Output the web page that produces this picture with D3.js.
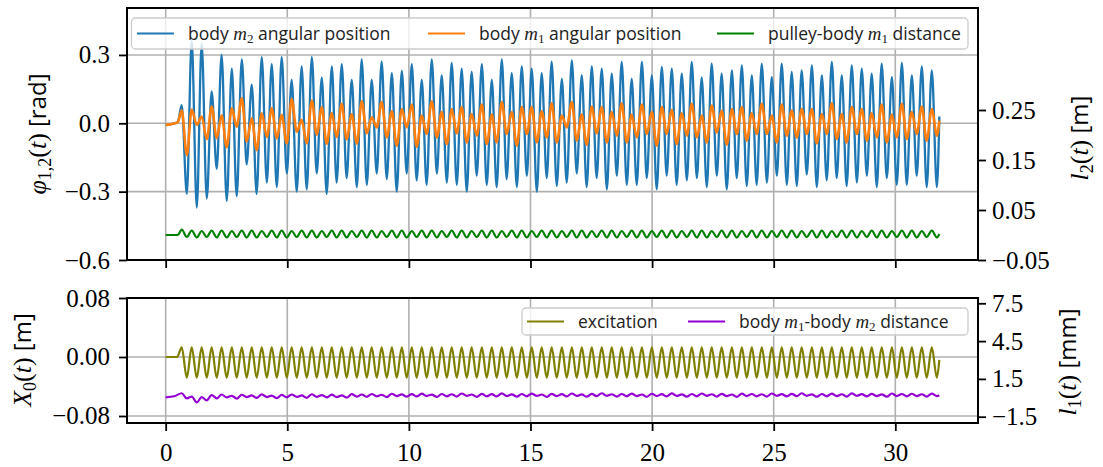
<!DOCTYPE html>
<html>
<head>
<meta charset="utf-8">
<script src="https://cdnjs.cloudflare.com/ajax/libs/d3/7.8.5/d3.min.js"></script>
<style>
	body { margin: 0; background: #fff; }
	svg { display: block; }
	text { white-space: pre; }
</style>
</head>
<body>
<div id="chart"></div>
<script>

// ---- data ----
// times (s) of the oscillation extrema, shared by all signals
const peakTimes = [
	0.66, 1.07, 1.48, 1.89, 2.30, 2.72, 3.13, 3.54, 3.95, 4.36, 4.77, 5.18, 5.59, 6.01, 6.42, 6.83, 7.24, 7.65,
	8.06, 8.47, 8.88, 9.30, 9.71, 10.12, 10.53, 10.94, 11.35, 11.76, 12.17, 12.58, 13.00, 13.41, 13.82, 14.23, 14.64, 15.05, 15.46, 15.87,
	16.29, 16.70, 17.11, 17.52, 17.93, 18.34, 18.75, 19.16, 19.58, 19.99, 20.40, 20.81, 21.22, 21.63, 22.04, 22.45, 22.86, 23.28, 23.69, 24.10,
	24.51, 24.92, 25.33, 25.74, 26.15, 26.57, 26.98, 27.39, 27.80, 28.21, 28.62, 29.03, 29.44, 29.86, 30.27, 30.68, 31.09, 31.50
];
const troughTimes = [
	0.87, 1.28, 1.69, 2.10, 2.51, 2.92, 3.33, 3.74, 4.16, 4.57, 4.98, 5.39, 5.80, 6.21, 6.62, 7.03, 7.44, 7.86,
	8.27, 8.68, 9.09, 9.50, 9.91, 10.32, 10.73, 11.15, 11.56, 11.97, 12.38, 12.79, 13.20, 13.61, 14.02, 14.44, 14.85, 15.26, 15.67, 16.08,
	16.49, 16.90, 17.31, 17.72, 18.14, 18.55, 18.96, 19.37, 19.78, 20.19, 20.60, 21.01, 21.43, 21.84, 22.25, 22.66, 23.07, 23.48, 23.89, 24.30,
	24.72, 25.13, 25.54, 25.95, 26.36, 26.77, 27.18, 27.59, 28.00, 28.42, 28.83, 29.24, 29.65, 30.06, 30.47, 30.88, 31.29, 31.71
];

// body m2 angular position [rad]
const phi2Start = [[0, -0.007], [0.3, -0.002], [0.5, 0.006]];
const phi2Peaks = [
	0.08, 0.36, 0.35, 0.14, 0.30, 0.24, 0.28, 0.17, 0.29, 0.26, 0.29, 0.19, 0.25, 0.29, 0.20, 0.25, 0.26, 0.19,
	0.28, 0.19, 0.27, 0.22, 0.23, 0.26, 0.19, 0.28, 0.21, 0.265, 0.24, 0.225, 0.26, 0.19, 0.28, 0.22, 0.25, 0.24, 0.22, 0.27,
	0.195, 0.276, 0.21, 0.25, 0.24, 0.218, 0.269, 0.195, 0.269, 0.21, 0.247, 0.24, 0.218, 0.269, 0.20, 0.262, 0.218, 0.232, 0.254, 0.21,
	0.262, 0.203, 0.262, 0.225, 0.232, 0.254, 0.21, 0.269, 0.21, 0.254, 0.24, 0.218, 0.262, 0.203, 0.265, 0.21, 0.25, 0.232
];
const phi2Troughs = [
	-0.31, -0.37, -0.33, -0.20, -0.34, -0.32, -0.18, -0.31, -0.26, -0.28, -0.22, -0.30, -0.29, -0.22, -0.31, -0.26, -0.24, -0.28,
	-0.27, -0.22, -0.245, -0.30, -0.22, -0.25, -0.27, -0.22, -0.26, -0.27, -0.30, -0.23, -0.27, -0.28, -0.245, -0.28, -0.23, -0.30, -0.24, -0.275,
	-0.26, -0.22, -0.28, -0.24, -0.29, -0.23, -0.27, -0.27, -0.24, -0.29, -0.23, -0.27, -0.25, -0.24, -0.28, -0.23, -0.29, -0.24, -0.275, -0.27,
	-0.26, -0.23, -0.27, -0.275, -0.225, -0.28, -0.25, -0.24, -0.275, -0.26, -0.23, -0.28, -0.24, -0.27, -0.27, -0.23, -0.28, -0.28
];
const phi2End = [31.81, 0.03];

// body m1 angular position [rad]
const phi1Start = [[0, -0.007], [0.3, -0.002], [0.5, 0.006]];
const phi1Peaks = [
	0.057, 0.06, 0.03, 0.073, 0.035, 0.066, 0.11, 0.022, 0.044, 0.066, 0.037, 0.106, 0.015, 0.10, 0.07, 0.045, 0.085, 0.04,
	0.097, 0.026, 0.093, 0.053, 0.063, 0.082, 0.034, 0.097, 0.049, 0.063, 0.071, 0.041, 0.082, 0.038, 0.093, 0.049, 0.071, 0.071, 0.053, 0.088,
	0.034, 0.093, 0.038, 0.074, 0.071, 0.049, 0.088, 0.038, 0.082, 0.049, 0.071, 0.059, 0.044, 0.085, 0.034, 0.078, 0.056, 0.063, 0.071, 0.044,
	0.085, 0.034, 0.082, 0.056, 0.063, 0.063, 0.041, 0.088, 0.041, 0.071, 0.063, 0.044, 0.082, 0.038, 0.085, 0.049, 0.074, 0.063
];
const phi1Troughs = [
	-0.14, -0.007, -0.07, -0.065, -0.105, -0.015, -0.08, -0.118, -0.06, -0.066, -0.088, -0.037, -0.088, -0.05, -0.09, -0.06, -0.07, -0.09,
	-0.044, -0.018, -0.062, -0.098, -0.018, -0.103, -0.047, -0.062, -0.091, -0.044, -0.084, -0.054, -0.091, -0.084, -0.047, -0.098, -0.047, -0.084, -0.062, -0.084,
	-0.018, -0.076, -0.094, -0.044, -0.084, -0.054, -0.084, -0.062, -0.047, -0.098, -0.047, -0.091, -0.054, -0.062, -0.084, -0.04, -0.094, -0.047, -0.076, -0.047,
	-0.047, -0.084, -0.054, -0.062, -0.047, -0.088, -0.047, -0.069, -0.084, -0.047, -0.076, -0.062, -0.084, -0.062, -0.069, -0.047, -0.076, -0.054
];
const phi1End = [31.81, 0.012];

// pulley-body m1 distance l2 [m]
const l2Start = [[0, 0.0], [0.5, 0.0]];
const l2Peaks = [
	0.011, 0.009, 0.008, 0.009, 0.009, 0.008, 0.009, 0.009, 0.008, 0.009, 0.009, 0.008, 0.009, 0.009, 0.008, 0.009, 0.009, 0.008,
	0.009, 0.009, 0.008, 0.009, 0.009, 0.008, 0.009, 0.009, 0.008, 0.009, 0.009, 0.008, 0.009, 0.009, 0.008, 0.009, 0.009, 0.008, 0.009, 0.009,
	0.008, 0.009, 0.009, 0.008, 0.009, 0.009, 0.008, 0.009, 0.009, 0.008, 0.009, 0.009, 0.008, 0.009, 0.009, 0.008, 0.009, 0.009, 0.008, 0.009,
	0.009, 0.008, 0.009, 0.009, 0.008, 0.009, 0.009, 0.008, 0.009, 0.009, 0.008, 0.009, 0.009, 0.008, 0.009, 0.009, 0.008, 0.009
];
const l2Troughs = [
	-0.004, -0.005, -0.004, -0.005, -0.005, -0.004, -0.005, -0.005, -0.004, -0.005, -0.005, -0.004, -0.005, -0.005, -0.004, -0.005, -0.005, -0.004,
	-0.005, -0.005, -0.004, -0.005, -0.005, -0.004, -0.005, -0.005, -0.004, -0.005, -0.005, -0.004, -0.005, -0.005, -0.004, -0.005, -0.005, -0.004, -0.005, -0.005,
	-0.004, -0.005, -0.005, -0.004, -0.005, -0.005, -0.004, -0.005, -0.005, -0.004, -0.005, -0.005, -0.004, -0.005, -0.005, -0.004, -0.005, -0.005, -0.004, -0.005,
	-0.005, -0.004, -0.005, -0.005, -0.004, -0.005, -0.005, -0.004, -0.005, -0.005, -0.004, -0.005, -0.005, -0.004, -0.005, -0.005, -0.004, -0.005
];
const l2End = [31.81, 0.002];

// excitation X0 [m]
const x0Start = [[0, 0.0], [0.47, 0.0]];
const x0Peaks = [
	0.013, 0.013, 0.013, 0.013, 0.013, 0.013, 0.013, 0.013, 0.013, 0.013, 0.013, 0.013, 0.013, 0.013, 0.013, 0.013, 0.013, 0.013,
	0.013, 0.013, 0.013, 0.013, 0.013, 0.013, 0.013, 0.013, 0.013, 0.013, 0.013, 0.013, 0.013, 0.013, 0.013, 0.013, 0.013, 0.013, 0.013, 0.013,
	0.013, 0.013, 0.013, 0.013, 0.013, 0.013, 0.013, 0.013, 0.013, 0.013, 0.013, 0.013, 0.013, 0.013, 0.013, 0.013, 0.013, 0.013, 0.013, 0.013,
	0.013, 0.013, 0.013, 0.013, 0.013, 0.013, 0.013, 0.013, 0.013, 0.013, 0.013, 0.013, 0.013, 0.013, 0.013, 0.013, 0.013, 0.013
];
const x0Troughs = [
	-0.028, -0.028, -0.028, -0.028, -0.028, -0.028, -0.028, -0.028, -0.028, -0.028, -0.028, -0.028, -0.028, -0.028, -0.028, -0.028, -0.028, -0.028,
	-0.028, -0.028, -0.028, -0.028, -0.028, -0.028, -0.028, -0.028, -0.028, -0.028, -0.028, -0.028, -0.028, -0.028, -0.028, -0.028, -0.028, -0.028, -0.028, -0.028,
	-0.028, -0.028, -0.028, -0.028, -0.028, -0.028, -0.028, -0.028, -0.028, -0.028, -0.028, -0.028, -0.028, -0.028, -0.028, -0.028, -0.028, -0.028, -0.028, -0.028,
	-0.028, -0.028, -0.028, -0.028, -0.028, -0.028, -0.028, -0.028, -0.028, -0.028, -0.028, -0.028, -0.028, -0.028, -0.028, -0.028, -0.028, -0.028
];
const x0End = [31.81, -0.004];

// body m1-body m2 distance l1 [mm]
const l1Start = [[0, 0.04], [0.35, 0.12]];
const l1Peaks = [
	0.36, 0.10, 0.06, 0.22, 0.26, 0.16, 0.24, 0.20, 0.27, 0.18, 0.23, 0.26, 0.19, 0.28, 0.22, 0.25, 0.20, 0.29,
	0.26, 0.30, 0.24, 0.32, 0.27, 0.29, 0.33, 0.25, 0.30, 0.28, 0.34, 0.26, 0.31, 0.29, 0.35, 0.27, 0.30, 0.33, 0.26, 0.31,
	0.29, 0.34, 0.27, 0.31, 0.36, 0.28, 0.30, 0.33, 0.26, 0.32, 0.29, 0.35, 0.27, 0.30, 0.34, 0.28, 0.31, 0.26, 0.33, 0.30,
	0.28, 0.34, 0.29, 0.31, 0.36, 0.27, 0.30, 0.33, 0.28, 0.35, 0.29, 0.31, 0.27, 0.34, 0.30, 0.32, 0.28, 0.33
];
const l1Troughs = [
	-0.05, -0.37, -0.20, -0.04, 0.03, -0.06, 0.05, -0.01, 0.06, -0.03, 0.04, 0.07, 0.00, 0.08, 0.03, 0.06, 0.01, 0.09,
	0.08, 0.12, 0.06, 0.13, 0.09, 0.11, 0.14, 0.07, 0.12, 0.10, 0.15, 0.08, 0.12, 0.11, 0.14, 0.09, 0.12, 0.15, 0.08, 0.13,
	0.11, 0.15, 0.09, 0.13, 0.16, 0.10, 0.12, 0.14, 0.08, 0.13, 0.11, 0.15, 0.09, 0.12, 0.16, 0.10, 0.13, 0.08, 0.14, 0.12,
	0.10, 0.15, 0.11, 0.13, 0.16, 0.09, 0.12, 0.14, 0.10, 0.15, 0.11, 0.13, 0.09, 0.14, 0.12, 0.13, 0.10, 0.14
];
const l1End = [31.81, 0.2];

// tick values
const timeTicks = [0, 5, 10, 15, 20, 25, 30];
const phiTicks = [-0.6, -0.3, 0.0, 0.3];
const l2Ticks = [-0.05, 0.05, 0.15, 0.25];
const x0Ticks = [-0.08, 0.0, 0.08];
const l1Ticks = [-1.5, 1.5, 4.5, 7.5];

// ---- drawing ----
const SERIF = "'Liberation Serif', 'DejaVu Serif', serif";
const SANS = "'Open Sans', 'DejaVu Sans', sans-serif";

const W = 1103, H = 467;
const plotLeft = 127, plotRight = 978;
const topPanel = {top: 8, bottom: 260};
const botPanel = {top: 298, bottom: 423};

const svg = d3.select("#chart").append("svg")
	.attr("width", W)
	.attr("height", H);

svg.append("rect").attr("width", W).attr("height", H).attr("fill", "#fff");

const x = d3.scaleLinear().domain([-1.59, 33.4]).range([plotLeft, plotRight]);
const yPhi = d3.scaleLinear().domain([-0.6, 0.506]).range([topPanel.bottom, topPanel.top]);
const yL2 = d3.scaleLinear().domain([-0.05, 0.454]).range([topPanel.bottom, topPanel.top]);
const yX0 = d3.scaleLinear().domain([-0.0895, 0.08]).range([botPanel.bottom, botPanel.top]);
const yL1 = d3.scaleLinear().domain([-2.0, 7.92]).range([botPanel.bottom, botPanel.top]);

function buildSeries(start, peaks, troughs, end){
	let pts = start.map(d => ({t: d[0], v: d[1]}));
	for(let i = 0; i < peakTimes.length; i++){
		pts.push({t: peakTimes[i], v: peaks[i]});
		pts.push({t: troughTimes[i], v: troughs[i]});
	}
	pts.push({t: end[0], v: end[1]});
	return pts;
}

// clip paths
const defs = svg.append("defs");
[["clipTop", topPanel], ["clipBot", botPanel]].forEach(([id, p]) => {
	defs.append("clipPath").attr("id", id)
		.append("rect")
		.attr("x", plotLeft).attr("y", p.top)
		.attr("width", plotRight - plotLeft).attr("height", p.bottom - p.top);
});

function drawGrid(panel, yScale, yTicks){
	let g = svg.append("g").attr("class", "grid");
	g.selectAll(".vg").data(timeTicks).enter().append("line")
		.attr("x1", d => x(d)).attr("x2", d => x(d))
		.attr("y1", panel.top).attr("y2", panel.bottom)
		.attr("stroke", "#b0b0b0").attr("stroke-width", 1.6);
	g.selectAll(".hg").data(yTicks).enter().append("line")
		.attr("x1", plotLeft).attr("x2", plotRight)
		.attr("y1", d => yScale(d)).attr("y2", d => yScale(d))
		.attr("stroke", "#b0b0b0").attr("stroke-width", 1.6);
}

drawGrid(topPanel, yPhi, phiTicks);
drawGrid(botPanel, yX0, x0Ticks);

function drawLine(data, yScale, color, width, clip){
	let line = d3.line()
		.x(d => x(d.t))
		.y(d => yScale(d.v))
		.curve(d3.curveMonotoneX);
	svg.append("path")
		.datum(data)
		.attr("clip-path", "url(#" + clip + ")")
		.attr("fill", "none")
		.attr("stroke", color)
		.attr("stroke-width", width)
		.attr("stroke-linejoin", "round")
		.attr("d", line);
}

drawLine(buildSeries(phi2Start, phi2Peaks, phi2Troughs, phi2End), yPhi, "#1f77b4", 2.3, "clipTop");
drawLine(buildSeries(phi1Start, phi1Peaks, phi1Troughs, phi1End), yPhi, "#ff7f0e", 2.6, "clipTop");
drawLine(buildSeries(l2Start, l2Peaks, l2Troughs, l2End), yL2, "#008000", 2.2, "clipTop");

drawLine(buildSeries(x0Start, x0Peaks, x0Troughs, x0End), yX0, "#808000", 2.2, "clipBot");
drawLine(buildSeries(l1Start, l1Peaks, l1Troughs, l1End), yL1, "#9400d3", 2.2, "clipBot");

// axes
function styleAxis(g){
	g.select(".domain").remove();
	g.selectAll(".tick line").attr("stroke", "#000").attr("stroke-width", 1.8);
	g.selectAll(".tick text")
		.attr("font-family", SERIF)
		.attr("font-size", 25)
		.attr("fill", "#000");
}

svg.append("g")
	.attr("transform", "translate(" + plotLeft + ",0)")
	.call(d3.axisLeft(yPhi).tickValues(phiTicks).tickFormat(d3.format(".1f")).tickSize(8).tickPadding(9))
	.call(styleAxis);
svg.append("g")
	.attr("transform", "translate(" + plotRight + ",0)")
	.call(d3.axisRight(yL2).tickValues(l2Ticks).tickFormat(d3.format(".2f")).tickSize(8).tickPadding(6))
	.call(styleAxis);
svg.append("g")
	.attr("transform", "translate(0," + topPanel.bottom + ")")
	.call(d3.axisBottom(x).tickValues(timeTicks).tickFormat("").tickSize(8))
	.call(styleAxis);

svg.append("g")
	.attr("transform", "translate(" + plotLeft + ",0)")
	.call(d3.axisLeft(yX0).tickValues(x0Ticks).tickFormat(d3.format(".2f")).tickSize(8).tickPadding(9))
	.call(styleAxis);
svg.append("g")
	.attr("transform", "translate(" + plotRight + ",0)")
	.call(d3.axisRight(yL1).tickValues(l1Ticks).tickFormat(d3.format(".1f")).tickSize(8).tickPadding(6))
	.call(styleAxis);
svg.append("g")
	.attr("transform", "translate(0," + botPanel.bottom + ")")
	.call(d3.axisBottom(x).tickValues(timeTicks).tickFormat(d3.format("d")).tickSize(8).tickPadding(12))
	.call(styleAxis);

// frames
[topPanel, botPanel].forEach(p => {
	svg.append("rect")
		.attr("x", plotLeft).attr("y", p.top)
		.attr("width", plotRight - plotLeft).attr("height", p.bottom - p.top)
		.attr("fill", "none").attr("stroke", "#000").attr("stroke-width", 2);
});

// mixed text: sans words, serif italic math, subscripts
function richText(sel, parts, size){
	let shifted = false;
	parts.forEach(p => {
		let ts = sel.append("tspan").text(p.s);
		let dy = 0;
		if(p.k === "sans"){
			ts.attr("font-family", SANS);
		} else if(p.k === "it"){
			ts.attr("font-family", SERIF).attr("font-style", "italic").attr("font-size", size * 1.08);
		} else if(p.k === "rm"){
			ts.attr("font-family", SERIF).attr("font-size", size * 1.08);
		} else if(p.k === "sub"){
			ts.attr("font-family", SERIF).attr("font-size", size * 0.75);
			dy += size * 0.22;
		}
		if(shifted && p.k !== "sub") dy -= size * 0.22;
		shifted = (p.k === "sub");
		if(dy !== 0) ts.attr("dy", dy);
	});
}

function axisLabel(cx, cy, parts, size){
	let t = svg.append("text")
		.attr("transform", "translate(" + cx + "," + cy + ") rotate(-90)")
		.attr("text-anchor", "middle")
		.attr("font-size", size)
		.attr("fill", "#000");
	richText(t, parts, size);
}

axisLabel(46, 134, [{k: "it", s: "φ"}, {k: "sub", s: "1,2"}, {k: "rm", s: "("}, {k: "it", s: "t"}, {k: "rm", s: ")"}, {k: "sans", s: " [rad]"}], 24);
axisLabel(1088, 138, [{k: "it", s: "l"}, {k: "sub", s: "2"}, {k: "rm", s: "("}, {k: "it", s: "t"}, {k: "rm", s: ")"}, {k: "sans", s: " [m]"}], 24);
axisLabel(31, 360, [{k: "it", s: "X"}, {k: "sub", s: "0"}, {k: "rm", s: "("}, {k: "it", s: "t"}, {k: "rm", s: ")"}, {k: "sans", s: " [m]"}], 24);
axisLabel(1076, 362, [{k: "it", s: "l"}, {k: "sub", s: "1"}, {k: "rm", s: "("}, {k: "it", s: "t"}, {k: "rm", s: ")"}, {k: "sans", s: " [mm]"}], 24);

// legends
function legend(box, items){
	let g = svg.append("g");
	g.append("rect")
		.attr("x", box.x).attr("y", box.y)
		.attr("width", box.w).attr("height", box.h)
		.attr("rx", 4)
		.attr("fill", "#fff").attr("fill-opacity", 0.8)
		.attr("stroke", "#cccccc").attr("stroke-width", 1.3);
	items.forEach(it => {
		let ly = box.y + box.h / 2;
		g.append("line")
			.attr("x1", it.x).attr("x2", it.x + 37)
			.attr("y1", ly).attr("y2", ly)
			.attr("stroke", it.color).attr("stroke-width", 2.2);
		let t = g.append("text")
			.attr("x", it.x + 51).attr("y", ly + 6)
			.attr("font-size", 17.5)
			.attr("fill", "#222");
		richText(t, it.parts, 17.5);
	});
}

legend({x: 131.5, y: 18, w: 836.5, h: 31}, [
	{x: 137, color: "#1f77b4", parts: [{k: "sans", s: "body "}, {k: "it", s: "m"}, {k: "sub", s: "2"}, {k: "sans", s: " angular position"}]},
	{x: 428, color: "#ff7f0e", parts: [{k: "sans", s: "body "}, {k: "it", s: "m"}, {k: "sub", s: "1"}, {k: "sans", s: " angular position"}]},
	{x: 717, color: "#008000", parts: [{k: "sans", s: "pulley-body "}, {k: "it", s: "m"}, {k: "sub", s: "1"}, {k: "sans", s: " distance"}]}
]);

legend({x: 522, y: 308, w: 446, h: 27}, [
	{x: 527, color: "#808000", parts: [{k: "sans", s: "excitation"}]},
	{x: 688, color: "#9400d3", parts: [{k: "sans", s: "body "}, {k: "it", s: "m"}, {k: "sub", s: "1"}, {k: "sans", s: "-body "}, {k: "it", s: "m"}, {k: "sub", s: "2"}, {k: "sans", s: " distance"}]}
]);

</script>
</body>
</html>
